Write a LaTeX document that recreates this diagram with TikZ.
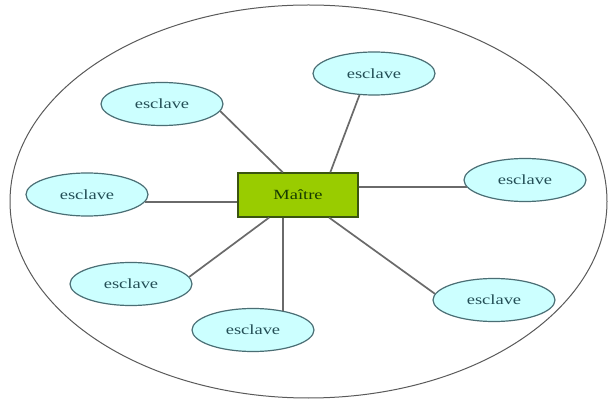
\documentclass[tikz,border=0pt]{standalone}
\usepackage{fontspec}
\setmainfont{Liberation Serif}
\usetikzlibrary{shapes.geometric,calc}
\definecolor{slavefill}{HTML}{CCFFFF}
\definecolor{slaveedge}{HTML}{4A6E74}
\definecolor{slavetext}{HTML}{234E55}
\definecolor{masterfill}{HTML}{99CC00}
\definecolor{masteredge}{HTML}{3A5410}
\definecolor{mastertext}{HTML}{173A00}
\definecolor{linkgray}{HTML}{6A6A6A}
\definecolor{ringgray}{HTML}{5A5A5A}
\tikzset{
  slave/.style={ellipse, draw=slaveedge, line width=1.2pt, fill=slavefill,
    minimum width=122pt, minimum height=43pt, inner sep=0pt,
    text=slavetext, font=\fontsize{14}{16}\selectfont},
  master/.style={rectangle, draw=masteredge, line width=1.2pt, fill=masterfill,
    minimum width=120pt, minimum height=44pt, inner sep=0pt,
    text=mastertext, font=\fontsize{14}{16}\selectfont},
  link/.style={draw=linkgray, line width=1.7pt},
  ring/.style={draw=ringgray, line width=1pt}
}
\newcommand{\wide}[1]{\scalebox{1.32}[1]{#1}}
\begin{document}
\begin{tikzpicture}[x=1pt,y=-1pt]
  \useasboundingbox (0,0) rectangle (608,403);
  \fill[white] (0,0) rectangle (608,403);
  % enclosing ring
  \draw[ring] (308.5,201.5) ellipse [x radius=298.5, y radius=196.5];
  % master and slaves
  \node[master] (m) at (298,195) {\wide{Maître}};
  \node[slave] (s1) at (162,104) {\wide{esclave}};
  \node[slave] (s2) at (374,73.5) {\wide{esclave}};
  \node[slave] (s3) at (87,194.5) {\wide{esclave}};
  \node[slave] (s4) at (525,180) {\wide{esclave}};
  \node[slave] (s5) at (131,284) {\wide{esclave}};
  \node[slave] (s6) at (253,330) {\wide{esclave}};
  \node[slave] (s7) at (494,300) {\wide{esclave}};
  % rows and column of the straight links
  \coordinate (row3) at (0,202);
  \coordinate (row4) at (0,187);
  \coordinate (col6) at (283,0);
  % links from master to each slave
  \draw[link] (m.124) -- (s1.-7);
  \draw[link] (m.35) -- (s2.236);
  \draw[link] (s3.-7 |- row3) -- (m.west |- row3);
  \draw[link] (m.east |- row4) -- (s4.187 |- row4);
  \draw[link] (m.218) -- (s5.7);
  \draw[link] (col6 |- m.south) -- (col6 |- s6.32);
  \draw[link] (m.-36) -- (s7.174);
\end{tikzpicture}
\end{document}
